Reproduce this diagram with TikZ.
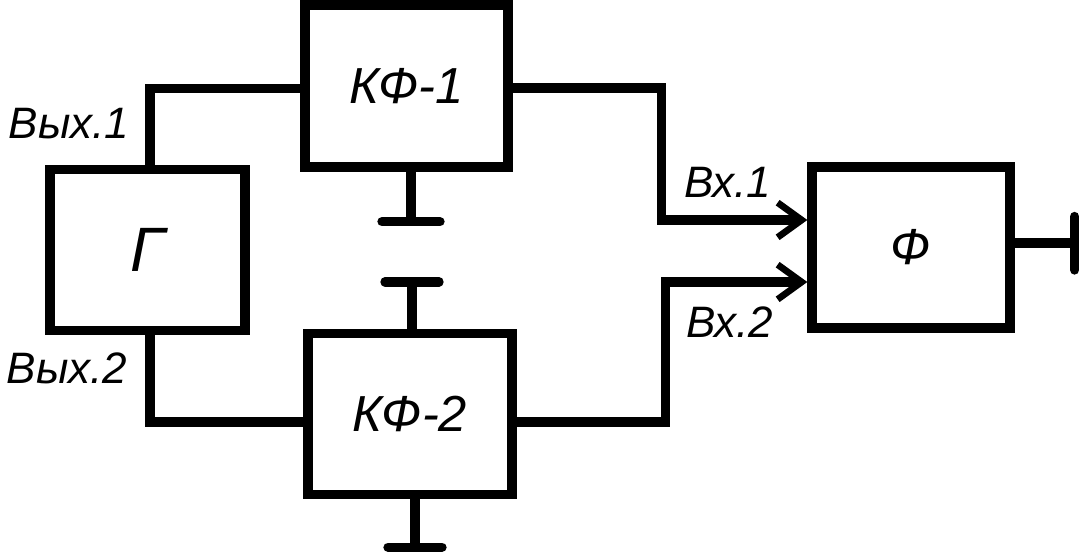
\documentclass[tikz,border=0pt]{standalone}
\usepackage{fontspec}
\setmainfont{Liberation Sans}
\usetikzlibrary{arrows.meta,calc}

\tikzset{
  blok/.style={draw, line width=7pt, inner sep=0pt, font=\itshape\fontsize{38}{40}\selectfont},
  provod/.style={line width=7pt},
  vhod/.style={provod, -{Straight Barb[length=18pt,width=26pt,line width=5pt]}},
  zeml/.style={line width=7pt, line cap=round},
  podpis/.style={inner sep=0pt, font=\itshape\fontsize{33}{35}\selectfont},
}

\begin{document}
\begin{tikzpicture}[x=0.75pt,y=0.75pt,yscale=-1,xscale=1]
			\useasboundingbox (0,0) rectangle (1080,552);

			%Blocks
			\node[blok, minimum width=146.25pt, minimum height=120.4pt, font=\itshape\fontsize{47}{49}\selectfont] (G) at (147.5,250) {Г};
			\node[blok, minimum width=152.25pt, minimum height=121.5pt] (KF1) at (406.5,86) {КФ-1};
			\node[blok, minimum width=153pt, minimum height=120.75pt] (KF2) at (410,414) {КФ-2};
			\node[blok, minimum width=148.5pt, minimum height=120.75pt] (F) at (911,247.5) {Ф};

			%Inputs of F
			\coordinate (vh1) at ($(F.west)+(0,-27.5)$);
			\coordinate (vh2) at ($(F.west)+(0,34.5)$);

			%Lines G -> KF
			\draw[provod] ($(G.north)+(2.5,0)$) |- ($(KF1.west)+(0,2.5)$);
			\draw[provod] ($(G.south)+(2.5,0)$) |- ($(KF2.west)+(0,8)$);
			%Lines KF -> F
			\draw[vhod] ($(KF1.east)+(0,2)$) -| ($(vh1)+(-146,0)$) -- (vh1);
			\draw[vhod] ($(KF2.east)+(0,8)$) -| ($(vh2)+(-142,0)$) -- (vh2);

			%Ground KF-1
			\draw[provod] ($(KF1.south)+(4.5,0)$) -- ++(0,50) coordinate (z1);
			\draw[zeml] ($(z1)+(-29,0)$) -- ($(z1)+(29,0)$);
			%Ground KF-2 top
			\draw[provod] ($(KF2.north)+(2,0)$) -- ++(0,-47) coordinate (z2);
			\draw[zeml] ($(z2)+(-27,0)$) -- ($(z2)+(27,0)$);
			%Ground KF-2 bottom
			\draw[provod] ($(KF2.south)+(5,0)$) -- ++(0,48) coordinate (z3);
			\draw[zeml] ($(z3)+(-27,0)$) -- ($(z3)+(27,0)$);
			%Ground F
			\draw[provod] ($(F.east)+(0,-4.5)$) -- ++(60,0) coordinate (z4);
			\draw[zeml] ($(z4)+(0,-26.5)$) -- ($(z4)+(0,27)$);

			%Labels
			\node[podpis] (vyh1) at (69,124) {Вых.1};
			\node[podpis] (vyh2) at (67,368) {Вых.2};
			\node[podpis] (vh1t) at (728,182) {Вх.1};
			\node[podpis] (vh2t) at (730,322) {Вх.2};
\end{tikzpicture}
\end{document}
